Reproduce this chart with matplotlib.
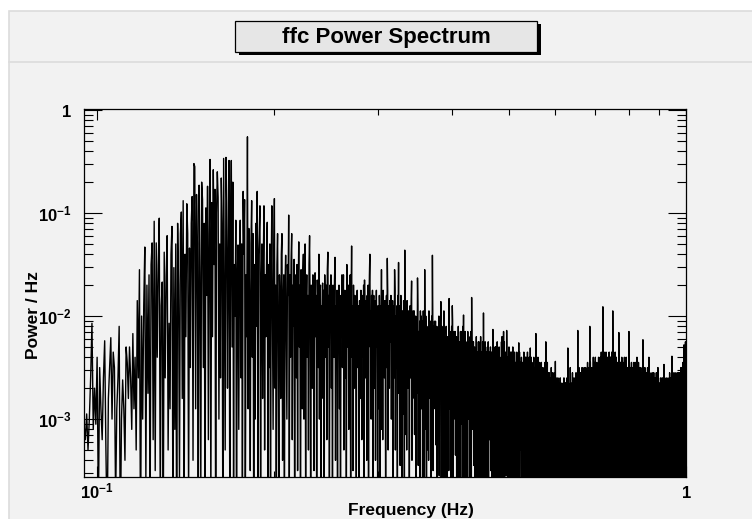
import numpy as np
import matplotlib
matplotlib.use("Agg")
import matplotlib.pyplot as plt
from matplotlib.patches import Rectangle
from matplotlib.lines import Line2D
from matplotlib.transforms import blended_transform_factory
from matplotlib.ticker import LogLocator, NullFormatter, FixedLocator, FixedFormatter

plt.rcParams['font.family'] = ['Liberation Sans', 'DejaVu Sans']
plt.rcParams['mathtext.fontset'] = 'custom'
plt.rcParams['mathtext.rm'] = 'Liberation Sans:bold'
plt.rcParams['mathtext.bf'] = 'Liberation Sans:bold'
plt.rcParams['mathtext.it'] = 'Liberation Sans:bold'

title = "ffc Power Spectrum"
x_title = "Frequency (Hz)"
y_title = "Power / Hz"

# frequency grid of the spectrum (Hz)
f_start = 0.095
f_step = 0.0005

# log10(power / Hz), 20 bins (0.01 Hz) per row
p_095 = [-3.05, -3.2, -2.95, -3.3, -3.0, -2.6, -2.07, -3.1, -2.7, -3.05, -2.4, -3.9, -2.5, -2.9, -3.2, -2.6, -2.24, -3.3, -4.1, -2.8,
         -2.5, -2.21, -3.0, -2.35, -2.5, -3.8, -2.9, -2.6, -2.1, -4.2, -3.0, -2.62, -2.9, -3.4, -2.3, -2.45, -2.8, -2.3, -2.6, -3.1,
         -2.17, -2.9, -2.4, -3.3, -1.85, -2.6, -1.55, -4.3, -2.0, -3.0, -1.9, -1.33, -3.6, -1.7, -2.75, -1.6, -4.0, -1.5, -1.29, -3.2,
         -1.08, -3.5, -1.29, -2.4, -1.5, -1.05, -3.9, -1.9, -1.67, -4.2, -1.38, -2.6, -1.6, -1.22, -3.3, -2.07, -2.9, -1.4, -1.13, -4.0,
         -1.53, -3.1, -1.3, -4.4, -1.1, -1.7, -3.6, -1.2, -0.99, -2.8, -0.88, -4.1, -1.4, -2.2, -0.91, -1.2, -3.8, -1.34, -2.5, -1.1,
         -0.84, -3.4, -0.52, -0.55, -2.9, -0.82, -1.3, -4.3, -0.73, -1.6, -3.7, -0.70, -0.87, -2.5, -1.1, -4.0, -0.95, -1.8, -0.74, -3.2,
         -1.2, -0.48, -3.9, -0.9, -2.2, -0.58, -1.5, -0.77, -4.5, -1.0, -0.6, -0.85, -3.0, -1.3, -2.6, -0.66, -1.1, -4.2, -0.47, -1.9,
         -3.3, -0.46, -0.9, -2.7, -1.4, -0.49, -4.0, -1.2, -0.49, -2.3, -0.70, -3.6, -1.5, -2.0, -1.07, -4.4, -1.6, -1.31, -3.1, -1.5,
         -1.07, -2.6, -1.3, -3.8, -0.79, -1.4, -0.87, -4.1, -1.6, -2.2, -0.26, -2.9, -1.15, -1.9, -3.5, -1.3, -0.88, -2.4, -1.2, -4.3,
         -1.5, -3.0, -1.1, -2.1, -0.79, -3.7, -1.4, -1.2, -0.93, -4.0, -1.7, -1.3, -2.8, -1.5, -0.93, -3.3, -1.6, -2.2, -1.4, -1.09]
p_195 = [-3.9, -1.5, -2.5, -1.3, -4.2, -1.6, -0.93, -2.0, -3.1, -1.4, -0.86, -2.7, -1.7, -4.4, -1.5, -1.20, -2.3, -3.6, -1.6, -1.9,
         -2.8, -1.4, -1.2, -3.4, -1.9, -1.6, -4.0, -1.7, -1.41, -2.2, -3.0, -1.5, -1.8, -1.02, -3.7, -1.6, -2.4, -1.45, -1.2, -3.2,
         -1.7, -2.1, -1.45, -4.1, -1.9, -1.6, -2.6, -1.5, -3.5, -1.8, -1.28, -2.3, -1.7, -4.3, -1.55, -1.9, -2.9, -1.6, -1.4, -3.0,
         -1.75, -1.30, -3.8, -1.9, -1.6, -2.4, -1.8, -3.3, -1.5, -1.22, -2.0, -4.0, -1.7, -1.85, -2.7, -1.6, -1.9, -3.5, -1.75, -1.58,
         -2.2, -1.8, -4.2, -1.65, -1.9, -2.5, -1.40, -3.0, -1.8, -1.7, -3.6, -1.9, -2.1, -1.68, -2.8, -1.75, -4.0, -1.6, -1.9, -2.4,
         -1.7, -3.2, -1.55, -1.38, -2.3, -1.8, -3.9, -1.7, -2.0, -1.6, -2.7, -1.85, -4.1, -1.7, -1.9, -2.4, -1.65, -1.43, -3.4, -1.9,
         -2.1, -1.75, -3.7, -1.9, -2.2, -1.7, -2.9, -1.85, -4.3, -1.8, -2.0, -1.6, -2.5, -1.9, -1.6, -3.3, -2.0, -1.75, -2.6, -1.9,
         -3.9, -1.5, -1.8, -2.3, -1.7, -3.1, -1.9, -2.1, -1.6, -4.0, -1.8, -1.32, -2.4, -1.9, -3.5, -1.7, -2.0, -2.7, -1.8, -1.95,
         -2.2, -3.6, -1.8, -1.75, -2.5, -2.0, -1.9, -4.2, -1.85, -2.1, -2.8, -1.75, -2.0, -3.2, -1.9, -1.8, -2.4, -1.7, -3.8, -1.65,
         -2.0, -2.6, -1.85, -1.9, -3.4, -1.8, -2.2, -1.7, -4.0, -1.9, -1.6, -1.4, -2.3, -1.95, -3.0, -1.8, -2.1, -1.75, -3.7, -1.9]
p_295 = [-1.8, -2.7, -2.0, -1.85, -3.4, -2.1, -1.75, -2.3, -1.95, -3.8, -1.9, -2.15, -2.9, -1.8, -2.05, -3.6, -1.9, -2.4, -1.55, -3.1,
         -1.95, -3.2, -1.75, -2.2, -1.9, -2.6, -1.85, -2.1, -3.9, -2.0, -1.8, -2.5, -1.44, -1.75, -3.3, -2.05, -1.9, -2.7, -1.85, -2.25,
         -2.1, -1.8, -3.0, -1.95, -2.4, -1.85, -3.7, -2.05, -1.9, -2.6, -1.55, -1.75, -3.3, -2.0, -2.1, -2.5, -1.9, -4.0, -1.8, -2.15,
         -1.48, -2.75, -2.05, -1.9, -3.45, -2.15, -1.8, -2.35, -2.0, -3.85, -1.95, -2.2, -2.95, -1.85, -2.1, -3.65, -1.36, -2.45, -2.05, -3.15,
         -2.05, -3.3, -1.85, -2.3, -2.0, -2.7, -1.95, -2.2, -4.0, -2.1, -1.9, -2.6, -2.25, -1.85, -1.66, -3.4, -2.0, -2.8, -1.95, -2.35,
         -2.25, -1.95, -3.15, -2.1, -2.55, -2.0, -3.85, -2.2, -2.05, -2.75, -1.63, -1.9, -3.45, -2.15, -2.25, -2.65, -2.05, -4.15, -1.95, -2.3,
         -2.0, -2.9, -2.2, -2.05, -3.6, -2.3, -1.95, -2.5, -2.15, -4.0, -1.55, -2.35, -3.1, -2.0, -2.25, -3.8, -2.1, -2.6, -2.2, -3.3,
         -2.15, -3.4, -1.95, -2.4, -2.1, -2.8, -2.05, -2.3, -4.1, -2.2, -2.0, -2.7, -1.41, -1.95, -3.5, -2.25, -2.1, -2.9, -2.05, -2.45,
         -2.35, -2.05, -3.25, -2.2, -2.65, -2.1, -3.95, -2.3, -2.15, -2.85, -2.45, -2.0, -3.55, -2.25, -2.35, -2.75, -2.15, -1.86, -4.25, -2.4,
         -2.1, -3.0, -2.3, -2.15, -3.7, -2.4, -1.95, -2.6, -2.25, -4.1, -2.2, -2.45, -3.2, -2.1, -2.35, -3.9, -2.2, -2.7, -2.3, -3.4]
p_395 = [-2.25, -3.5, -1.83, -2.5, -2.2, -2.9, -2.15, -2.4, -4.2, -2.3, -2.1, -2.8, -1.9, -2.05, -3.6, -2.35, -2.2, -3.0, -2.15, -2.55,
         -2.45, -2.15, -3.35, -2.3, -2.75, -2.2, -4.05, -2.4, -2.25, -2.95, -2.55, -2.1, -3.65, -2.35, -2.45, -2.85, -2.25, -4.35, -2.15, -2.5,
         -2.15, -3.05, -2.35, -2.2, -3.75, -2.45, -2.1, -2.65, -1.99, -4.15, -2.25, -2.5, -3.25, -2.15, -2.4, -3.95, -2.25, -2.75, -2.35, -3.45,
         -2.35, -3.6, -2.15, -2.6, -2.3, -3.0, -2.25, -2.5, -4.3, -2.4, -2.2, -2.9, -2.55, -2.15, -3.7, -1.82, -2.3, -3.1, -2.25, -2.65,
         -2.55, -2.25, -3.45, -2.4, -2.85, -2.3, -4.15, -2.5, -2.35, -3.05, -2.65, -2.2, -3.75, -2.45, -2.55, -2.95, -2.35, -4.45, -2.25, -2.6,
         -2.25, -3.15, -2.45, -2.3, -3.85, -2.55, -2.2, -2.75, -2.4, -4.25, -2.35, -2.6, -3.35, -2.25, -2.5, -4.05, -1.97, -2.85, -2.45, -3.55,
         -2.45, -3.7, -2.25, -2.7, -2.4, -3.1, -2.35, -2.6, -4.4, -2.5, -2.3, -3.0, -2.65, -2.25, -3.8, -2.55, -2.4, -3.2, -2.35, -2.75,
         -2.6, -2.3, -3.5, -2.45, -2.9, -2.35, -4.2, -2.55, -2.4, -3.1, -2.13, -2.25, -3.8, -2.5, -2.6, -3.0, -2.4, -4.5, -2.3, -2.65,
         -2.3, -3.2, -2.5, -2.35, -3.9, -2.6, -2.25, -2.8, -2.45, -4.3, -2.4, -2.65, -3.4, -2.3, -2.55, -4.1, -2.4, -2.9, -2.5, -3.6,
         -2.45, -3.7, -2.25, -2.7, -2.2, -3.1, -2.35, -2.6, -4.4, -2.5, -2.15, -3.0, -2.65, -2.25, -3.8, -2.55, -2.4, -3.5, -2.35, -2.75]
p_495 = [-2.65, -3.55, -2.14, -2.5, -2.95, -2.4, -4.25, -2.6, -2.45, -3.15, -2.75, -2.3, -3.85, -2.55, -2.65, -3.05, -2.45, -4.55, -2.35, -2.7,
         -2.35, -3.25, -2.55, -2.4, -3.95, -2.65, -2.3, -2.85, -2.5, -4.35, -2.45, -2.7, -3.45, -2.35, -2.6, -4.15, -2.45, -2.95, -2.55, -3.65,
         -2.55, -3.8, -2.35, -2.8, -2.5, -3.2, -2.45, -2.7, -4.5, -2.6, -2.26, -3.1, -2.75, -2.35, -3.9, -2.65, -2.5, -3.3, -2.45, -2.85,
         -2.7, -2.4, -3.6, -2.55, -3.0, -2.45, -4.3, -2.65, -2.5, -3.2, -2.8, -2.35, -3.9, -2.6, -2.7, -3.1, -2.5, -4.6, -2.4, -2.75,
         -2.4, -3.3, -2.6, -2.45, -4.0, -2.7, -2.35, -2.9, -2.55, -4.4, -2.5, -2.75, -3.5, -2.4, -2.65, -4.2, -2.5, -3.0, -2.31, -3.7,
         -2.6, -3.85, -2.4, -2.85, -2.55, -3.25, -2.5, -2.75, -4.55, -2.65, -2.45, -3.15, -2.8, -2.4, -3.95, -2.7, -2.55, -3.35, -2.5, -2.9,
         -2.75, -3.65, -2.17, -2.6, -3.05, -2.5, -4.35, -2.7, -2.55, -3.25, -2.85, -2.4, -3.95, -2.65, -2.75, -3.15, -2.55, -4.65, -2.45, -2.8,
         -2.5, -3.4, -2.7, -2.55, -4.1, -2.8, -2.45, -3.0, -2.65, -4.5, -2.6, -2.85, -3.6, -2.5, -2.75, -4.3, -2.6, -3.1, -2.7, -3.8,
         -2.65, -3.9, -2.45, -2.9, -2.6, -3.3, -2.25, -2.8, -4.6, -2.7, -2.5, -3.2, -2.85, -2.45, -4.0, -2.75, -2.6, -3.4, -2.55, -2.95,
         -2.85, -2.55, -3.75, -2.7, -3.15, -2.6, -4.45, -2.8, -2.65, -3.35, -2.95, -2.5, -4.05, -2.75, -2.85, -3.25, -2.65, -4.75, -2.55, -2.9]
p_595 = [-2.6, -3.5, -2.8, -2.65, -4.2, -2.9, -2.55, -3.1, -2.75, -4.6, -2.44, -2.95, -3.7, -2.6, -2.85, -4.4, -2.7, -3.2, -2.8, -3.9,
         -2.8, -4.05, -2.6, -3.05, -2.75, -3.45, -2.7, -2.95, -4.75, -2.85, -2.65, -3.35, -3.0, -2.6, -4.15, -2.9, -2.75, -3.55, -2.7, -3.1,
         -2.95, -2.65, -3.85, -2.8, -3.25, -2.7, -4.55, -2.9, -2.75, -3.45, -3.05, -2.6, -4.15, -2.85, -2.95, -3.35, -2.75, -4.85, -2.65, -3.0,
         -2.65, -3.55, -2.85, -2.7, -4.25, -2.95, -2.6, -3.15, -2.8, -4.65, -2.31, -3.0, -3.75, -2.65, -2.9, -4.45, -2.75, -3.25, -2.85, -3.95,
         -2.8, -4.05, -2.5, -3.05, -2.75, -3.45, -2.7, -2.95, -4.3, -2.85, -2.65, -3.35, -3.0, -2.55, -4.15, -2.9, -2.75, -3.55, -2.7, -3.1,
         -2.9, -2.6, -3.8, -2.75, -3.2, -2.65, -4.5, -2.85, -2.7, -3.4, -3.0, -2.55, -4.1, -2.8, -2.9, -3.3, -2.7, -4.8, -2.6, -2.95,
         -2.14, -3.45, -2.75, -2.6, -4.15, -2.85, -2.5, -3.05, -2.7, -4.55, -2.65, -2.9, -3.65, -2.55, -2.8, -4.35, -2.65, -3.15, -2.75, -3.85,
         -2.7, -3.95, -2.5, -2.95, -2.65, -3.35, -2.6, -2.85, -4.65, -2.75, -2.55, -3.25, -2.9, -2.5, -4.05, -2.8, -2.65, -3.45, -2.6, -3.0,
         -2.8, -2.5, -3.7, -2.65, -3.1, -2.55, -4.4, -2.75, -2.6, -3.3, -2.9, -2.45, -4.0, -2.7, -2.8, -3.2, -2.6, -4.7, -2.5, -2.85,
         -2.5, -3.4, -2.7, -2.10, -4.1, -2.8, -2.45, -3.0, -2.65, -4.5, -2.6, -2.85, -3.6, -2.5, -2.75, -4.3, -2.6, -3.1, -2.7, -3.8]
p_695 = [-2.6, -3.85, -2.4, -2.85, -2.55, -3.25, -2.5, -2.75, -4.55, -2.65, -2.45, -3.15, -2.8, -2.4, -3.95, -2.7, -2.55, -3.35, -2.5, -2.9,
         -2.75, -2.45, -3.65, -2.6, -3.05, -2.5, -4.35, -2.7, -2.55, -3.25, -2.85, -2.4, -3.95, -2.65, -2.75, -3.15, -2.55, -4.65, -2.45, -2.8,
         -2.4, -3.3, -2.6, -2.45, -4.0, -2.7, -2.35, -2.9, -2.55, -4.4, -2.5, -2.75, -3.5, -2.4, -2.65, -1.91, -4.2, -3.0, -2.6, -3.7,
         -2.55, -3.8, -2.35, -2.8, -2.5, -3.2, -2.45, -2.7, -4.5, -2.6, -2.4, -3.1, -2.75, -2.35, -3.9, -2.65, -2.5, -3.3, -2.45, -2.85,
         -2.7, -2.4, -3.6, -2.55, -3.0, -2.45, -4.3, -2.65, -2.5, -3.2, -2.8, -2.35, -3.9, -2.6, -2.7, -3.1, -2.5, -4.6, -2.4, -2.75,
         -2.4, -3.3, -2.6, -2.45, -4.0, -2.7, -2.35, -2.9, -2.55, -4.4, -2.5, -2.75, -1.95, -2.4, -2.65, -4.2, -2.5, -3.0, -2.6, -3.7,
         -2.5, -3.85, -2.4, -2.85, -2.55, -3.25, -2.35, -2.75, -4.55, -2.65, -2.45, -3.15, -2.8, -2.4, -3.95, -2.7, -2.55, -3.35, -2.5, -3.1,
         -2.75, -2.45, -3.65, -2.6, -3.05, -2.5, -4.35, -2.7, -2.16, -3.25, -2.85, -2.4, -3.95, -2.65, -2.75, -3.15, -2.55, -4.65, -2.45, -2.8,
         -2.45, -3.35, -2.65, -2.5, -4.05, -2.75, -2.4, -2.95, -2.6, -4.45, -2.55, -2.8, -3.55, -2.45, -2.7, -4.25, -2.55, -3.05, -2.65, -3.75,
         -2.6, -3.85, -2.4, -2.7, -2.55, -3.25, -2.5, -2.75, -4.55, -2.65, -2.45, -3.4, -2.8, -2.4, -3.95, -2.5, -2.55, -3.35, -2.5, -2.9]
p_795 = [-2.8, -2.5, -3.7, -2.65, -3.1, -2.55, -4.4, -2.75, -2.6, -3.3, -2.15, -2.45, -4.0, -2.7, -2.8, -3.2, -2.6, -4.7, -2.5, -2.85,
         -2.5, -3.4, -2.7, -2.55, -4.1, -2.8, -2.45, -3.0, -2.65, -4.5, -2.6, -2.85, -3.6, -2.5, -2.75, -4.3, -2.6, -3.1, -2.7, -3.8,
         -2.65, -3.9, -2.45, -2.9, -2.6, -3.3, -2.55, -2.8, -4.6, -2.7, -2.5, -3.2, -2.85, -2.45, -4.0, -2.75, -2.6, -3.4, -2.55, -2.95,
         -2.8, -2.4, -3.7, -2.65, -3.1, -2.55, -4.4, -2.75, -2.6, -3.3, -2.9, -2.45, -4.0, -2.7, -2.8, -3.2, -2.6, -4.7, -2.5, -2.85,
         -2.55, -3.45, -2.75, -2.6, -4.15, -2.85, -2.5, -3.05, -2.7, -4.55, -2.65, -2.9, -3.65, -2.55, -2.8, -4.35, -2.65, -3.15, -2.75, -3.85,
         -2.23, -3.95, -2.5, -2.95, -2.65, -3.35, -2.6, -2.85, -4.65, -2.75, -2.55, -3.25, -2.9, -2.5, -4.05, -2.8, -2.65, -3.45, -2.6, -3.0,
         -2.85, -2.55, -3.75, -2.7, -3.15, -2.6, -4.45, -2.8, -2.65, -3.35, -2.95, -2.5, -4.05, -2.75, -2.85, -3.25, -2.65, -4.75, -2.55, -2.9,
         -2.40, -3.5, -2.8, -2.65, -4.2, -2.9, -2.55, -3.1, -2.75, -4.6, -2.7, -2.95, -3.7, -2.6, -2.85, -4.4, -2.7, -3.2, -2.8, -3.9,
         -2.75, -4.0, -2.55, -3.0, -2.7, -3.4, -2.65, -2.9, -4.7, -2.8, -2.6, -3.3, -2.95, -2.55, -4.1, -2.85, -2.7, -3.5, -2.65, -3.05,
         -2.9, -2.6, -3.8, -2.75, -3.2, -2.65, -4.5, -2.85, -2.7, -3.4, -3.0, -2.55, -4.1, -2.8, -2.9, -3.3, -2.7, -4.8, -2.6, -2.95]
p_895 = [-2.65, -3.55, -2.5, -2.7, -4.25, -2.95, -2.6, -3.15, -2.8, -4.65, -2.75, -3.0, -3.75, -2.65, -2.9, -4.45, -2.75, -3.25, -2.85, -3.95,
         -2.8, -4.05, -2.6, -3.05, -2.75, -3.45, -2.7, -2.95, -4.75, -2.85, -2.65, -3.35, -3.0, -2.6, -4.15, -2.9, -2.75, -3.55, -2.7, -3.1,
         -2.95, -2.65, -3.85, -2.8, -3.25, -2.47, -4.55, -2.9, -2.75, -3.45, -3.05, -2.6, -4.15, -2.85, -2.95, -3.35, -2.75, -4.85, -2.65, -3.0,
         -2.65, -3.55, -2.85, -2.7, -4.25, -2.95, -2.6, -3.15, -2.8, -4.65, -2.75, -3.0, -3.75, -2.65, -2.9, -4.45, -2.75, -3.25, -2.85, -3.95,
         -2.8, -4.05, -2.6, -3.05, -2.75, -3.45, -2.55, -2.95, -4.75, -2.85, -2.65, -3.35, -3.0, -2.6, -4.15, -2.9, -2.75, -3.9, -2.7, -3.1,
         -2.9, -2.6, -3.8, -2.39, -3.2, -2.65, -4.5, -2.85, -2.7, -3.4, -3.0, -2.55, -4.1, -2.8, -2.9, -3.3, -2.7, -4.8, -2.6, -2.95,
         -2.6, -3.5, -2.8, -2.65, -4.2, -2.9, -2.55, -3.1, -2.75, -4.6, -2.7, -2.95, -3.7, -2.6, -2.85, -4.4, -2.7, -3.2, -2.8, -3.9,
         -2.75, -4.0, -2.55, -3.0, -2.7, -3.4, -2.65, -2.9, -4.7, -2.8, -2.6, -3.3, -2.95, -2.55, -4.1, -2.85, -2.7, -3.5, -2.65, -3.05,
         -2.85, -2.55, -3.75, -2.7, -3.15, -2.6, -4.45, -2.8, -2.65, -3.35, -2.95, -2.5, -4.05, -2.75, -2.85, -3.25, -2.65, -4.75, -2.55, -2.9,
         -2.5, -3.4, -2.7, -2.55, -4.1, -2.8, -2.45, -3.0, -2.65, -4.5, -2.6, -2.85, -3.6, -2.5, -2.28, -4.3, -2.6, -3.1, -2.7, -3.8]
p_995 = [-2.4, -3.3, -2.3, -2.45, -3.9, -2.35, -2.25, -3.0, -2.4, -2.3, -2.35]

logp = np.concatenate([p_095, p_195, p_295, p_395, p_495,
                       p_595, p_695, p_795, p_895, p_995])
freq = f_start + f_step * np.arange(len(logp))
power = 10.0 ** logp

W, H = 752, 519
fig = plt.figure(figsize=(W / 100, H / 100), dpi=100, facecolor='white')

# ROOT-like canvas: grey pad with a light border, title strip on top
fig.add_artist(Rectangle((9 / W, -0.01), 1.02 - 9 / W, 1.01 - 11 / H,
                         transform=fig.transFigure, facecolor='#f2f2f2',
                         edgecolor='#dcdcdc', lw=1.2, zorder=-10))
fig.add_artist(Line2D([9 / W, 1], [1 - 62 / H, 1 - 62 / H],
                      transform=fig.transFigure, color='#dcdcdc', lw=1.2,
                      zorder=-9))

# title box with drop shadow
fig.add_artist(Rectangle((238.5 / W, 1 - 55 / H), 302 / W, 31 / H,
                         transform=fig.transFigure, facecolor='black',
                         edgecolor='black', lw=0, zorder=-8))
fig.add_artist(Rectangle((235 / W, 1 - 52 / H), 302 / W, 31 / H,
                         transform=fig.transFigure, facecolor='#e6e6e6',
                         edgecolor='black', lw=0.9, zorder=-7))
fig.text(386 / W, 1 - 37 / H, title, ha='center', va='center',
         fontsize=16, fontweight='bold')

ax = fig.add_axes([84 / W, 1 - 477 / H, 602 / W, 368 / H])
ax.set_facecolor('#f2f2f2')
ax.plot(freq, power, color='black', lw=1.0)

ax.set_xscale('log')
ax.set_yscale('log')
ax.set_xlim(0.095, 1.0)
ax.set_ylim(2.74e-4, 1.023)

for s in ax.spines.values():
    s.set_linewidth(0.9)

ax.xaxis.set_major_locator(FixedLocator([0.1, 1.0]))
ax.xaxis.set_major_formatter(NullFormatter())
ax.xaxis.set_minor_locator(LogLocator(base=10, subs=np.arange(2, 10)))
ax.xaxis.set_minor_formatter(NullFormatter())

ax.yaxis.set_major_locator(FixedLocator([1e-3, 1e-2, 1e-1, 1.0]))
ax.yaxis.set_major_formatter(FixedFormatter([r'$\mathbf{10^{-3}}$', r'$\mathbf{10^{-2}}$',
                                             r'$\mathbf{10^{-1}}$', r'$\mathbf{1}$']))
ax.yaxis.set_minor_locator(LogLocator(base=10, subs=np.arange(2, 10)))
ax.yaxis.set_minor_formatter(NullFormatter())

ax.tick_params(axis='x', which='major', direction='in', length=8, width=0.8,
               top=True, bottom=True)
ax.tick_params(axis='x', which='minor', direction='in', length=4, width=0.8,
               top=True, bottom=True)
ax.tick_params(axis='y', which='major', direction='in', length=13, width=0.8,
               left=True, right=True, pad=9, labelsize=12)
ax.tick_params(axis='y', which='minor', direction='in', length=6.5, width=0.8,
               left=True, right=True)

# x labels sit on a common baseline, as in ROOT
tr = blended_transform_factory(ax.transData, fig.transFigure)
ax.text(0.1, 1 - 498 / H, r'$\mathbf{10^{-1}}$', transform=tr, ha='center',
        va='baseline', fontsize=12)
ax.text(1.0, 1 - 498 / H, r'$\mathbf{1}$', transform=tr, ha='center',
        va='baseline', fontsize=12)

fig.text(411 / W, 1 - 511 / H, x_title, ha='center', va='center',
         fontsize=12.5, fontweight='bold')
fig.text(33 / W, 1 - 315 / H, y_title, rotation=90, ha='center', va='center',
         fontsize=12.5, fontweight='bold')

fig.savefig('out.png', dpi=100, facecolor=fig.get_facecolor())
